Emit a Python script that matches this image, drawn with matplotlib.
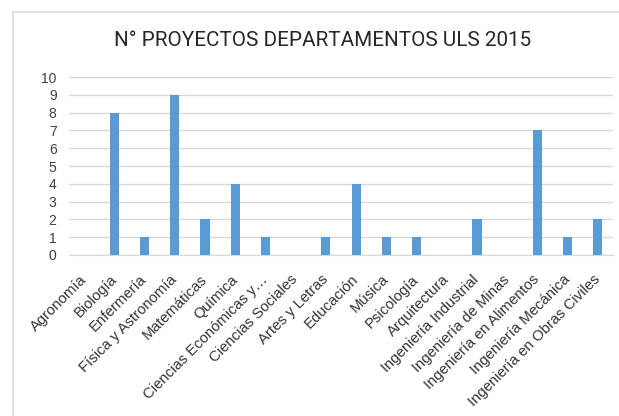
import matplotlib
matplotlib.use("Agg")
import matplotlib.pyplot as plt
from matplotlib.patches import Rectangle

categories = ["Agronomía", "Biología", "Enfermería", "Física y Astronomía", "Matemáticas",
              "Química", "Ciencias Económicas y…", "Ciencias Sociales", "Artes y Letras",
              "Educación", "Música", "Psicología", "Arquitectura", "Ingeniería Industrial",
              "Ingeniería de Minas", "Ingeniería en Alimentos", "Ingeniería Mecánica",
              "Ingeniería en Obras Civiles"]
values = [0, 8, 1, 9, 2, 4, 1, 0, 1, 4, 1, 1, 0, 2, 0, 7, 1, 2]
yticks = list(range(0, 11))

fig = plt.figure(figsize=(6.19, 4.16), dpi=100)
W, H = 619, 416
fig.patches.append(Rectangle((13 / W, -0.1), 1.2, 1 - 12 / H + 0.1, transform=fig.transFigure,
                             fill=False, edgecolor="#d9d9d9", linewidth=1.2))

ax = fig.add_axes([69 / W, 1 - 255 / H, (613 - 69) / W, (255 - 77) / H])
x = range(len(categories))
ax.bar(x, values, width=0.3, color="#5b9bd5", zorder=3)
ax.set_xlim(-0.5, len(categories) - 0.5)
ax.set_ylim(0, 10)
ax.set_yticks(yticks)
ax.set_yticklabels([str(v) for v in yticks], fontsize=10, color="#404040", family="Liberation Sans")
ax.set_xticks(list(x))
ax.set_xticklabels(categories, rotation=45, ha="right", va="center", rotation_mode="anchor",
                   fontsize=10.7, color="#333333", family="Liberation Sans")
ax.grid(axis="y", color="#d9d9d9", linewidth=1, zorder=0)
for s in ["top", "right", "left"]:
    ax.spines[s].set_visible(False)
ax.spines["bottom"].set_color("#d9d9d9")
ax.tick_params(axis="y", length=0, pad=9)
ax.tick_params(axis="x", length=0, pad=16)
fig.text(322.5 / W, 1 - 40.5 / H, "N° PROYECTOS DEPARTAMENTOS ULS 2015",
         ha="center", va="center", fontsize=14.9, color="#262626", family="Roboto")
fig.savefig("out.png", dpi=100)
